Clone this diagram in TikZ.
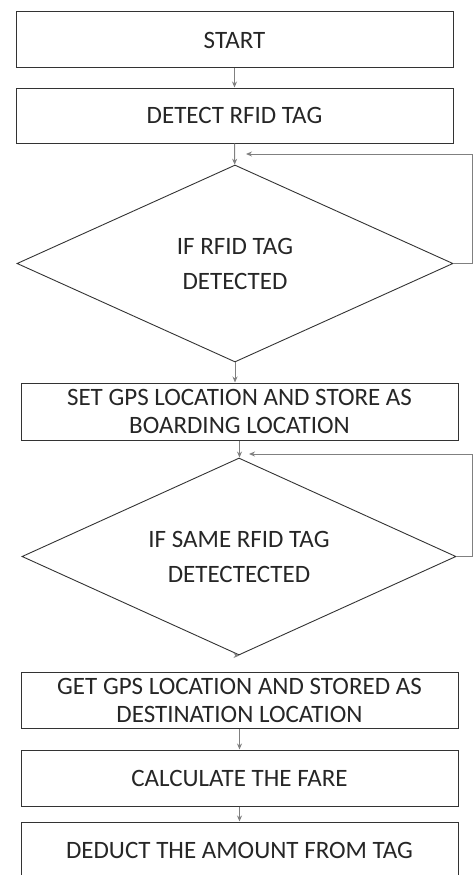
\documentclass[tikz,border=0pt]{standalone}
\usepackage{fontspec}
\setmainfont{Carlito}
\usetikzlibrary{shapes.geometric, calc, arrows.meta}

\begin{document}
\begin{tikzpicture}[x=1pt, y=-1pt, >={Stealth[length=6pt, width=5pt]},
  stepbox/.style={draw=black!80, line width=1pt, rectangle, minimum width=437pt,
    inner sep=0pt, align=center, font=\fontsize{25}{28}\selectfont, text=black!85},
  decide/.style={draw=black!80, line width=0.9pt, diamond, aspect=2.2, inner sep=0pt,
    align=center, font=\fontsize{25}{35}\selectfont, text=black!85},
  flow/.style={->, draw=black!50, line width=0.9pt}
]
\useasboundingbox (0,0) rectangle (475,875);
\clip (0,0) rectangle (475,875);

% boxes and decisions
\node[stepbox, minimum height=56pt] (start) at (234.5,40) {START};
\node[stepbox, minimum height=55pt] (detect) at (234.5,115.5) {DETECT RFID TAG};
\node[decide, minimum width=436pt, minimum height=197pt] (check1) at (235,263.5)
  {IF RFID TAG\\DETECTED};
\node[stepbox, minimum height=57pt] (board) at (239.5,411.5)
  {SET GPS LOCATION AND STORE AS\\BOARDING LOCATION};
\node[decide, minimum width=434pt, minimum height=197pt] (check2) at (239,556.5)
  {IF SAME RFID TAG\\DETECTECTED};
\node[stepbox, minimum height=56pt] (dest) at (239.5,700)
  {GET GPS LOCATION AND STORED AS\\DESTINATION LOCATION};
\node[stepbox, minimum height=56pt] (fare) at (239.5,778) {CALCULATE THE FARE};
\node[stepbox, minimum height=56pt] (deduct) at (239.5,850) {DEDUCT THE AMOUNT FROM TAG};

% loop ends
\coordinate (back1) at (472,154);
\coordinate (in1) at (246,154);
\coordinate (back2) at (472,454);
\coordinate (in2) at (249,454);

% arrows
\draw[flow] (start) -- (detect);
\draw[flow] (detect) -- (check1);
\draw[flow] (check1.south) -- (check1.south |- board.north);
\draw[flow] (board.south) -- (board.south |- check2.north);
\draw[flow] (check2.south) -- (check2.south -| dest.north);
\draw[flow] (dest) -- (fare);
\draw[flow] (fare) -- (deduct);

% going back
\draw[flow] (check1.east) -| (back1) -- (in1);
\draw[flow] (check2.east) -| (back2) -- (in2);
\end{tikzpicture}
\end{document}
